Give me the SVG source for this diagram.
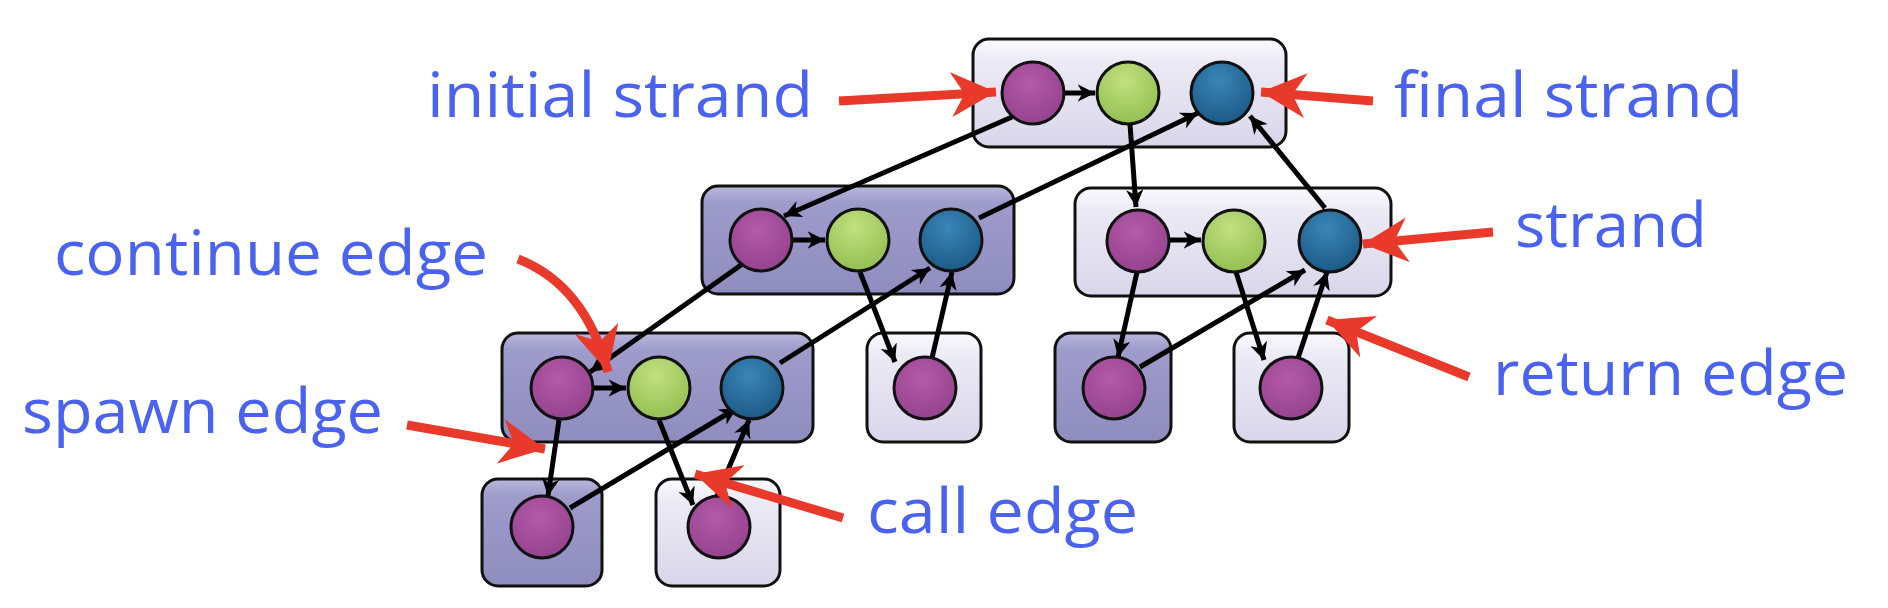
<svg xmlns="http://www.w3.org/2000/svg" width="1888" height="608" viewBox="0 0 1888 608">
<style>
.dk{fill:url(#gd);stroke:#111;stroke-width:3}
.lt{fill:url(#gl);stroke:#111;stroke-width:3}
.m{fill:url(#gm);stroke:#111;stroke-width:3}
.g{fill:url(#gg);stroke:#111;stroke-width:3}
.b{fill:url(#gb);stroke:#111;stroke-width:3}
.e{stroke:#000;stroke-width:5;fill:none;marker-end:url(#ah)}
.r{stroke:#e8392a;stroke-width:9;fill:none;marker-end:url(#rh)}
text{font-family:"Open Sans","DejaVu Sans",sans-serif;font-size:62px;fill:#4a62f0}
</style>
<defs>
<linearGradient id="gd" x1="0" y1="0" x2="0" y2="1"><stop offset="0" stop-color="#b9b8dc"/><stop offset="0.15" stop-color="#9e9ccb"/><stop offset="1" stop-color="#8f8cbf"/></linearGradient>
<linearGradient id="gl" x1="0" y1="0" x2="0" y2="1"><stop offset="0" stop-color="#fafaff"/><stop offset="0.2" stop-color="#eceaf5"/><stop offset="1" stop-color="#d9d6ea"/></linearGradient>
<radialGradient id="gm" cx="0.45" cy="0.35" r="0.7"><stop offset="0" stop-color="#b45aa8"/><stop offset="1" stop-color="#93418d"/></radialGradient>
<radialGradient id="gg" cx="0.45" cy="0.3" r="0.7"><stop offset="0" stop-color="#c2e080"/><stop offset="1" stop-color="#93bf52"/></radialGradient>
<radialGradient id="gb" cx="0.45" cy="0.3" r="0.7"><stop offset="0" stop-color="#3a86b8"/><stop offset="1" stop-color="#1c5a86"/></radialGradient>
<marker id="ah" viewBox="0 0 10 10" refX="10" refY="5" markerWidth="3.5" markerHeight="3.5" orient="auto" markerUnits="strokeWidth"><path d="M0,0 L10,5 L0,10 L3,5 z" fill="#000"/></marker>
<marker id="rh" viewBox="0 0 10 10" refX="10" refY="5" markerWidth="5" markerHeight="5" orient="auto" markerUnits="strokeWidth"><path d="M0,0 L10,5 L0,10 L3,5 z" fill="#e8392a"/></marker>
</defs>
<g id="boxes">
<g id="box-top"><rect class="lt" x="973" y="39" width="313" height="108" rx="16"/></g>
<g id="box-r2a"><rect class="dk" x="702" y="186" width="312" height="108" rx="16"/></g>
<g id="box-r2b"><rect class="lt" x="1075" y="188" width="316" height="108" rx="16"/></g>
<g id="box-r3a"><rect class="dk" x="502" y="333" width="311" height="109" rx="16"/></g>
<g id="box-r3b"><rect class="lt" x="867" y="333" width="114" height="109" rx="16"/></g>
<g id="box-r3c"><rect class="dk" x="1055" y="333" width="116" height="109" rx="16"/></g>
<g id="box-r3d"><rect class="lt" x="1234" y="333" width="115" height="109" rx="16"/></g>
<g id="box-r4a"><rect class="dk" x="482" y="479" width="120" height="107" rx="16"/></g>
<g id="box-r4b"><rect class="lt" x="656" y="479" width="124" height="107" rx="16"/></g>
</g>
<g id="connectors">
<line class="e" x1="1064" y1="93" x2="1095" y2="93"/>
<line class="e" x1="1012" y1="117" x2="784" y2="216"/>
<line class="e" x1="979" y1="218" x2="1198" y2="113"/>
<line class="e" x1="1130" y1="124" x2="1136" y2="207"/>
<line class="e" x1="1325" y1="208" x2="1250" y2="116"/>
<line class="e" x1="792" y1="240" x2="825" y2="240"/>
<line class="e" x1="1169" y1="240" x2="1201" y2="240"/>
<line class="e" x1="741" y1="265" x2="590" y2="372"/>
<line class="e" x1="780" y1="363" x2="930" y2="268"/>
<line class="e" x1="860" y1="272" x2="895" y2="362"/>
<line class="e" x1="932" y1="358" x2="952" y2="272"/>
<line class="e" x1="1137" y1="272" x2="1118" y2="357"/>
<line class="e" x1="1140" y1="367" x2="1305" y2="270"/>
<line class="e" x1="1236" y1="272" x2="1264" y2="360"/>
<line class="e" x1="1298" y1="358" x2="1327" y2="272"/>
<line class="e" x1="593" y1="388" x2="626" y2="388"/>
<line class="e" x1="559" y1="420" x2="548" y2="496"/>
<line class="e" x1="570" y1="508" x2="737" y2="408"/>
<line class="e" x1="659" y1="420" x2="693" y2="505"/>
<line class="e" x1="717" y1="496" x2="749" y2="420"/>
</g>
<g id="nodes">
<g id="n-t1"><circle class="m" cx="1033" cy="93" r="31"/></g>
<g id="n-t2"><circle class="g" cx="1128" cy="93" r="31"/></g>
<g id="n-t3"><circle class="b" cx="1222" cy="93" r="31"/></g>
<g id="n-a1"><circle class="m" cx="761" cy="240" r="31"/></g>
<g id="n-a2"><circle class="g" cx="858" cy="240" r="31"/></g>
<g id="n-a3"><circle class="b" cx="951" cy="240" r="31"/></g>
<g id="n-b1"><circle class="m" cx="1138" cy="241" r="31"/></g>
<g id="n-b2"><circle class="g" cx="1234" cy="241" r="31"/></g>
<g id="n-b3"><circle class="b" cx="1330" cy="241" r="31"/></g>
<g id="n-c1"><circle class="m" cx="562" cy="388" r="31"/></g>
<g id="n-c2"><circle class="g" cx="659" cy="388" r="31"/></g>
<g id="n-c3"><circle class="b" cx="752" cy="388" r="31"/></g>
<g id="n-d"><circle class="m" cx="925" cy="388" r="31"/></g>
<g id="n-e"><circle class="m" cx="1114" cy="388" r="31"/></g>
<g id="n-f"><circle class="m" cx="1291" cy="388" r="31"/></g>
<g id="n-g"><circle class="m" cx="542" cy="527" r="31"/></g>
<g id="n-h"><circle class="m" cx="719" cy="527" r="31"/></g>
</g>
<g id="callouts">
<line class="r" x1="839" y1="101" x2="996" y2="92"/>
<line class="r" x1="1373" y1="101" x2="1261" y2="92"/>
<line class="r" x1="1493" y1="232" x2="1363" y2="244"/>
<line class="r" x1="1469" y1="377" x2="1327" y2="320"/>
<line class="r" x1="843" y1="518" x2="695" y2="474"/>
<line class="r" x1="407" y1="425" x2="545" y2="449"/>
<path class="r" d="M518,259 Q585,285 608,372"/>
<text x="427" y="117" textLength="386" lengthAdjust="spacingAndGlyphs">initial strand</text>
<text x="1394" y="117" textLength="349" lengthAdjust="spacingAndGlyphs">final strand</text>
<text x="54" y="275" textLength="434" lengthAdjust="spacingAndGlyphs">continue edge</text>
<text x="1515" y="247" textLength="192" lengthAdjust="spacingAndGlyphs">strand</text>
<text x="1493" y="395" textLength="355" lengthAdjust="spacingAndGlyphs">return edge</text>
<text x="22" y="433" textLength="361" lengthAdjust="spacingAndGlyphs">spawn edge</text>
<text x="867" y="533" textLength="271" lengthAdjust="spacingAndGlyphs">call edge</text>
</g>
</svg>
